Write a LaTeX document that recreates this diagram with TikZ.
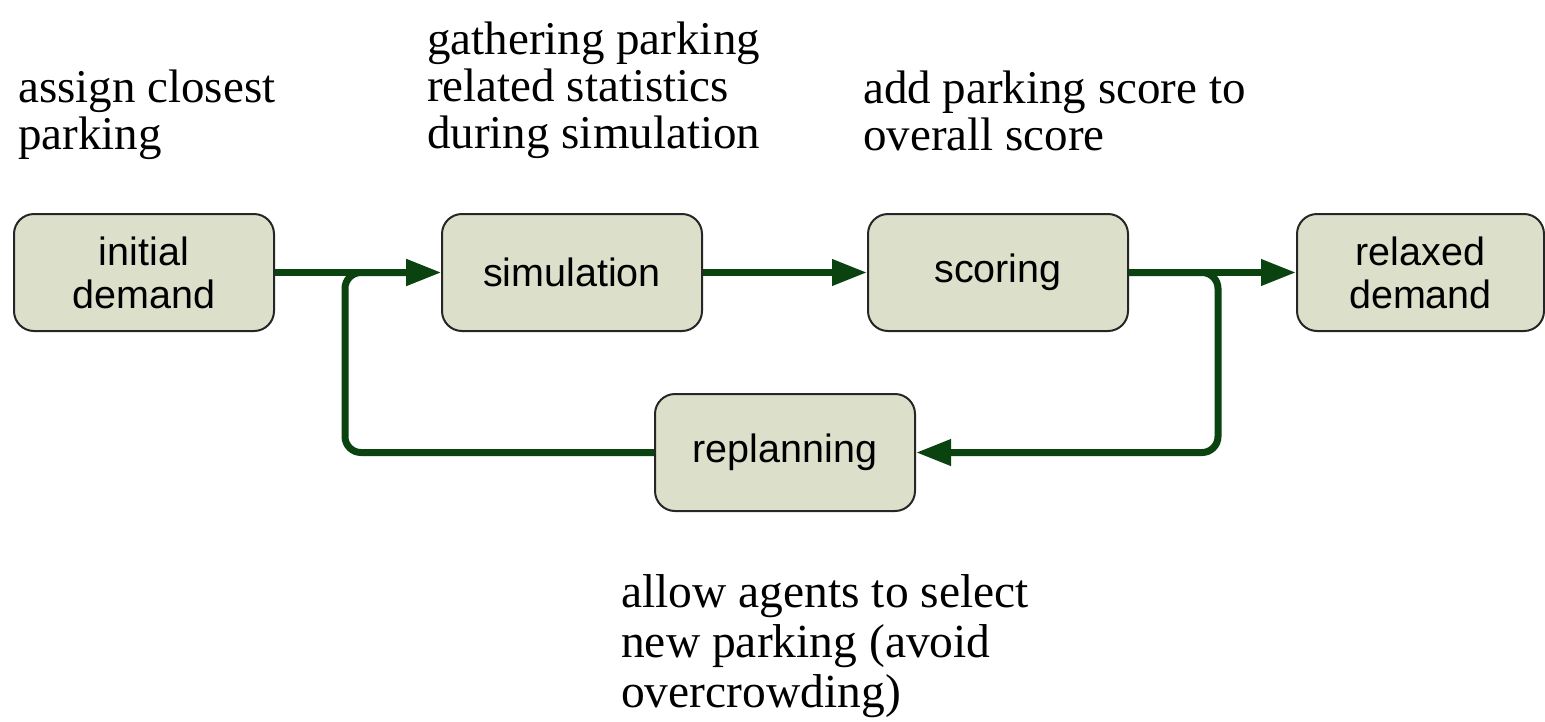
\documentclass[tikz,border=0pt]{standalone}
\usepackage{fontspec}
\setmainfont{Liberation Serif}
\newfontfamily\boxfont{Liberation Sans}
\usetikzlibrary{arrows.meta}
\definecolor{boxfill}{HTML}{DCE0CB}
\definecolor{flowgreen}{HTML}{0A4210}

\begin{document}
\begin{tikzpicture}[x=1pt,y=-1pt,
  stage/.style={draw=black!85, line width=2pt, fill=boxfill, rounded corners=20pt,
    minimum width=260pt, minimum height=117pt, inner sep=0pt, align=center,
    font=\boxfont\fontsize{39.5}{43}\selectfont},
  tip/.style={-{Triangle[length=35pt,width=25pt]}},
  flow/.style={draw=flowgreen, line width=7pt, tip},
  loopline/.style={draw=flowgreen, line width=7pt, rounded corners=16pt, tip},
  note/.style={anchor=north west, align=left, inner sep=0pt,
    font=\fontsize{47}{47}\selectfont}]
\useasboundingbox (0,0) rectangle (1545,721);

% process stages
\node[stage] (init) at (144,272.5) {initial\\demand};
\node[stage] (sim) at (572,272.5) {simulation};
\node[stage] (score) at (998,272.5) {scoring};
\node[stage, minimum width=247pt] (relax) at (1420.5,272.5) {relaxed\\demand};
\node[stage] (replan) at (785,452.5) {replanning};

% loop corners
\coordinate (lc) at (345,452.5);
\coordinate (rc) at (1218,452.5);

% main flow
\draw[flow] (init.east) -- (sim.west);
\draw[flow] (sim.east) -- (score.west);
\draw[flow] (score.east) -- (relax.west);

% replanning loop
\draw[loopline] (score.east) -- (rc |- score.east) -- (rc) -- (replan.east);
\draw[loopline] (replan.west) -- (lc) -- (lc |- sim.west) -- (sim.west);

% annotations
\node[note] (n1) at (18,70) {assign closest\\parking};
\node[note] (n2) at (427,22) {gathering parking\\related statistics\\during simulation};
\node[note] (n3) at (863,71) {add parking score to\\overall score};
\node[note, font=\fontsize{47.5}{50}\selectfont] (n4) at (621,574) {allow agents to select\\new parking (avoid\\overcrowding)};
\end{tikzpicture}
\end{document}
